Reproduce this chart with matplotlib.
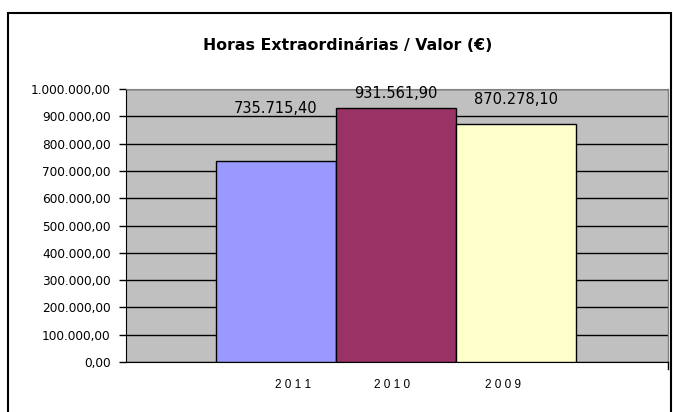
import matplotlib.pyplot as plt
from matplotlib.patches import Rectangle
from matplotlib.ticker import FuncFormatter

# dados do gráfico
anos = ['2011', '2010', '2009']
valores = [735715.40, 931561.90, 870278.10]
rotulos = ['735.715,40', '931.561,90', '870.278,10']
cores = ['#9999FF', '#993366', '#FFFFCC']

plt.rcParams['font.family'] = ['DejaVu Sans']

def fmt_pt(v, pos=None):
    s = f'{v:,.2f}'
    return s.replace(',', 'X').replace('.', ',').replace('X', '.')

fig = plt.figure(figsize=(6.73, 4.12), dpi=100)
W, H = 673, 412
ax = fig.add_axes([126 / W, 1 - 362 / H, 542 / W, 273 / H])

x = [0, 1, 2]
ax.bar(x, valores, width=1.0, color=cores, edgecolor='black', linewidth=1, zorder=3)
ax.set_xlim(-1.25, 3.267)
ax.set_ylim(0, 1000000)
ax.set_facecolor('#C0C0C0')
ax.set_yticks(range(0, 1000001, 100000))
ax.yaxis.set_major_formatter(FuncFormatter(fmt_pt))
ax.grid(axis='y', color='black', linewidth=1, zorder=1)
ax.tick_params(axis='y', length=5, width=1, labelsize=8.7, pad=6, colors='black')

# rótulos do eixo x ligeiramente desalinhados como no original
ax.set_xticks([0.142, 0.967, 1.892])
ax.set_xticklabels([' '.join(a) for a in anos], fontsize=8.5, family='Liberation Sans')
ax.tick_params(axis='x', length=0, pad=12)

ax.spines['left'].set_color('black')
ax.spines['bottom'].set_color('black')
ax.spines['top'].set_color('#808080')
ax.spines['right'].set_visible(False)
ax.plot([1, 1], [1, 0], transform=ax.transAxes, color='#808080', linewidth=1, clip_on=False)
ax.plot([1, 1], [0, -0.025], transform=ax.transAxes, color='black', linewidth=1, clip_on=False)

# rótulos de dados
pos_rot = [930000, 982000, 960000]
for xi, yi, r in zip(x, pos_rot, rotulos):
    ax.text(xi, yi, r, ha='center', va='center', fontsize=10.5, zorder=4)

fig.text(348 / W, 1 - 45 / H, 'Horas Extraordinárias / Valor (€)', ha='center', va='center',
         fontsize=11.3, fontweight='bold')

# moldura do gráfico
fig.patches.append(Rectangle((8 / W, -0.1), 663 / W, 1.1 - 13 / H, transform=fig.transFigure,
                             fill=False, edgecolor='black', linewidth=1.5))

fig.savefig('out.png', dpi=100)
